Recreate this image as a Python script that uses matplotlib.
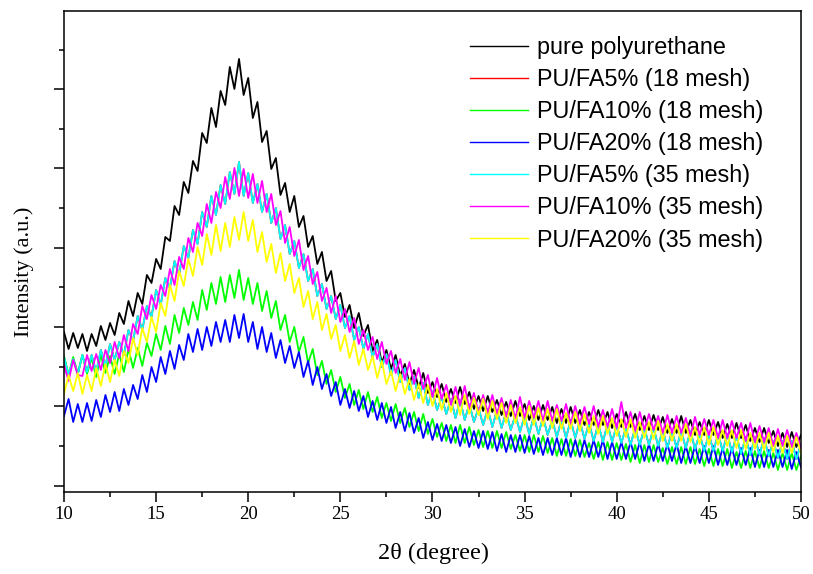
import numpy as np
import matplotlib
matplotlib.use("Agg")
import matplotlib.pyplot as plt
from matplotlib.ticker import MultipleLocator

# 2theta grid, 0.25 degree step from 10 to 50
two_theta = np.linspace(10, 50, 161)

# intensities (a.u.)
pure_pu = [
    233, 216, 232, 217, 231, 214, 231, 219,
    239, 225, 242, 230, 252, 241, 264, 249,
    272, 261, 290, 282, 306, 296, 328, 324,
    359, 350, 383, 372, 404, 394, 432, 422,
    457, 438, 474, 460, 498, 476, 506, 470,
    487, 447, 463, 423, 434, 396, 407, 370,
    382, 353, 369, 338, 349, 318, 329, 301,
    313, 284, 294, 264, 272, 248, 260, 237,
    252, 229, 240, 214, 225, 202, 215, 196,
    210, 189, 201, 181, 195, 177, 192, 172,
    183, 168, 181, 163, 176, 162, 178, 161,
    173, 156, 169, 154, 169, 153, 165, 150,
    163, 149, 164, 149, 161, 145, 159, 145,
    160, 145, 158, 142, 156, 142, 158, 142,
    155, 140, 153, 140, 155, 140, 153, 137,
    151, 138, 153, 138, 151, 135, 149, 135,
    150, 135, 148, 132, 146, 132, 149, 132,
    145, 130, 143, 130, 145, 130, 143, 127,
    141, 127, 142, 127, 140, 124, 137, 123,
    137, 122, 134, 119, 132, 118, 133, 118,
    130]

fa10_35 = [
    200, 184, 205, 190, 189, 210, 194, 211,
    195, 215, 202, 223, 207, 230, 214, 241,
    231, 259, 246, 270, 256, 280, 269, 296,
    280, 308, 296, 327, 313, 342, 329, 361,
    342, 373, 357, 388, 366, 397, 369, 396,
    367, 391, 362, 384, 353, 371, 340, 354,
    322, 338, 309, 325, 295, 309, 281, 293,
    264, 277, 252, 269, 243, 256, 233, 247,
    221, 235, 215, 228, 206, 223, 201, 214,
    192, 206, 185, 203, 181, 197, 176, 190,
    168, 187, 166, 180, 160, 178, 160, 179,
    156, 172, 152, 170, 152, 170, 151, 167,
    148, 165, 146, 168, 147, 164, 147, 164,
    144, 164, 144, 160, 144, 161, 141, 159,
    141, 158, 141, 159, 138, 155, 138, 156,
    137, 163, 137, 153, 134, 153, 135, 151,
    135, 149, 132, 150, 132, 149, 132, 147,
    129, 148, 130, 146, 130, 145, 127, 145,
    127, 144, 127, 142, 124, 142, 123, 139,
    123, 137, 119, 136, 119, 135, 118, 132,
    117]

fa5_35 = [
    208, 190, 206, 191, 210, 193, 210, 193,
    215, 199, 221, 205, 223, 210, 235, 224,
    249, 235, 259, 248, 275, 260, 287, 277,
    304, 290, 319, 307, 335, 321, 353, 338,
    369, 350, 380, 361, 393, 371, 403, 369,
    392, 362, 381, 353, 371, 342, 357, 326,
    340, 311, 324, 297, 311, 284, 296, 269,
    281, 256, 269, 246, 260, 237, 249, 225,
    238, 216, 231, 208, 221, 198, 211, 190,
    205, 183, 197, 175, 188, 167, 182, 160,
    174, 155, 168, 151, 166, 147, 165, 145,
    161, 143, 157, 140, 156, 138, 155, 137,
    153, 135, 150, 133, 149, 131, 149, 131,
    148, 130, 145, 128, 145, 127, 145, 127,
    144, 126, 142, 124, 141, 123, 141, 123,
    140, 122, 137, 120, 137, 120, 137, 120,
    137, 119, 135, 117, 134, 117, 134, 117,
    134, 116, 131, 114, 131, 114, 131, 114,
    131, 113, 129, 111, 128, 110, 128, 110,
    127, 109, 124, 107, 124, 106, 124, 106,
    121]

# red trace is completely hidden under the cyan one in the picture
fa5_18 = list(fa5_35)

fa20_35 = [
    171, 190, 174, 192, 171, 190, 174, 197,
    179, 201, 183, 205, 189, 214, 202, 227,
    210, 237, 223, 248, 233, 262, 249, 280,
    264, 294, 279, 306, 289, 318, 300, 331,
    310, 340, 314, 342, 318, 348, 325, 353,
    324, 345, 313, 333, 303, 321, 292, 312,
    284, 301, 272, 287, 258, 274, 246, 263,
    235, 251, 226, 240, 214, 230, 207, 224,
    200, 216, 195, 209, 187, 204, 181, 194,
    174, 191, 171, 186, 165, 181, 162, 180,
    159, 176, 155, 172, 153, 169, 150, 170,
    151, 167, 150, 166, 146, 164, 146, 162,
    142, 160, 142, 158, 140, 159, 140, 157,
    139, 156, 137, 156, 136, 152, 136, 153,
    134, 151, 132, 149, 131, 149, 131, 147,
    129, 146, 128, 146, 127, 143, 127, 143,
    126, 144, 124, 141, 124, 141, 124, 141,
    123, 138, 121, 138, 120, 138, 120, 135,
    119, 135, 117, 135, 116, 132, 116, 132,
    115, 132, 113, 129, 112, 129, 112, 128,
    112]

fa10_18 = [
    209, 190, 208, 191, 210, 191, 207, 188,
    210, 192, 209, 191, 211, 193, 216, 197,
    217, 199, 222, 209, 231, 215, 239, 221,
    250, 232, 257, 240, 263, 245, 275, 255,
    282, 261, 288, 263, 290, 267, 295, 265,
    287, 261, 282, 254, 274, 247, 264, 235,
    250, 223, 238, 213, 228, 202, 216, 190,
    204, 181, 195, 173, 188, 167, 181, 160,
    175, 156, 173, 153, 168, 147, 162, 144,
    161, 142, 157, 138, 153, 134, 151, 131,
    146, 128, 142, 124, 140, 122, 140, 122,
    138, 120, 135, 118, 134, 117, 134, 117,
    133, 116, 130, 114, 130, 113, 130, 113,
    129, 112, 127, 109, 126, 109, 126, 109,
    125, 108, 122, 106, 123, 105, 123, 105,
    122, 105, 121, 103, 120, 102, 120, 103,
    120, 103, 117, 101, 118, 101, 118, 101,
    118, 101, 116, 99, 116, 99, 116, 99,
    116, 97, 113, 97, 114, 97, 114, 97,
    114, 97, 112, 95, 112, 95, 112, 95,
    109]

fa20_18 = [
    149, 166, 143, 161, 143, 162, 144, 165,
    148, 170, 153, 173, 154, 176, 160, 180,
    166, 190, 173, 198, 183, 208, 191, 214,
    196, 220, 205, 231, 213, 236, 215, 238,
    219, 243, 223, 245, 223, 250, 227, 251,
    223, 243, 216, 238, 213, 232, 207, 225,
    202, 219, 197, 213, 188, 204, 180, 198,
    176, 191, 169, 183, 160, 176, 157, 174,
    154, 169, 148, 164, 145, 162, 142, 158,
    137, 153, 134, 152, 132, 147, 127, 143,
    125, 141, 124, 140, 122, 138, 119, 136,
    118, 134, 117, 134, 116, 133, 114, 131,
    113, 130, 113, 130, 112, 129, 111, 127,
    110, 127, 110, 127, 110, 127, 108, 125,
    108, 125, 108, 125, 108, 125, 106, 123,
    106, 123, 106, 123, 106, 123, 104, 121,
    104, 121, 104, 121, 104, 121, 102, 119,
    102, 119, 102, 119, 102, 119, 100, 117,
    100, 117, 100, 117, 100, 117, 98, 115,
    98, 115, 98, 115, 98, 115, 96, 113,
    98]

series = [
    ("pure polyurethane", pure_pu, "#000000"),
    ("PU/FA5% (18 mesh)", fa5_18, "#ff0000"),
    ("PU/FA10% (18 mesh)", fa10_18, "#00ff00"),
    ("PU/FA20% (18 mesh)", fa20_18, "#0000ff"),
    ("PU/FA5% (35 mesh)", fa5_35, "#00ffff"),
    ("PU/FA10% (35 mesh)", fa10_35, "#ff00ff"),
    ("PU/FA20% (35 mesh)", fa20_35, "#ffff00"),
]

serif = ["Liberation Serif", "DejaVu Serif"]
sans = ["Liberation Sans", "DejaVu Sans"]

fig = plt.figure(figsize=(8.13, 5.74), dpi=100)
ax = fig.add_axes([0.0787, 0.1434, 0.9065, 0.8375])

for name, vals, col in series:
    ax.plot(two_theta, vals, color=col, lw=1.3, label=name)

ax.set_xlim(10, 50)
ax.set_ylim(73.3, 554)
ax.xaxis.set_major_locator(MultipleLocator(5))
ax.xaxis.set_minor_locator(MultipleLocator(2.5))
ax.yaxis.set_major_locator(MultipleLocator(79.3))
ax.yaxis.set_minor_locator(MultipleLocator(39.65))
ax.tick_params(which="both", direction="out", width=1.1, top=False, right=False)
ax.tick_params(which="major", length=7, pad=3)
ax.tick_params(which="minor", length=3.5)
ax.tick_params(axis="y", labelleft=False)
for lab in ax.get_xticklabels():
    lab.set_family(serif)
    lab.set_fontsize(13.5)
for sp in ax.spines.values():
    sp.set_linewidth(1.1)

ax.set_xlabel("2θ (degree)", family=serif, fontsize=17.5)
ax.set_ylabel("Intensity (a.u.)", family=serif, fontsize=16)
ax.xaxis.set_label_coords(0.502, -0.106)
ax.yaxis.set_label_coords(-0.041, 0.457)

leg = ax.legend(loc="upper left", bbox_to_anchor=(0.551, 0.948), frameon=False,
                prop={"family": sans, "size": 16.8}, handlelength=2.5,
                handletextpad=0.35, labelspacing=0.39, borderpad=0, borderaxespad=0)
for h in leg.get_lines():
    h.set_linewidth(1.0)

fig.savefig("out.png", dpi=100)
